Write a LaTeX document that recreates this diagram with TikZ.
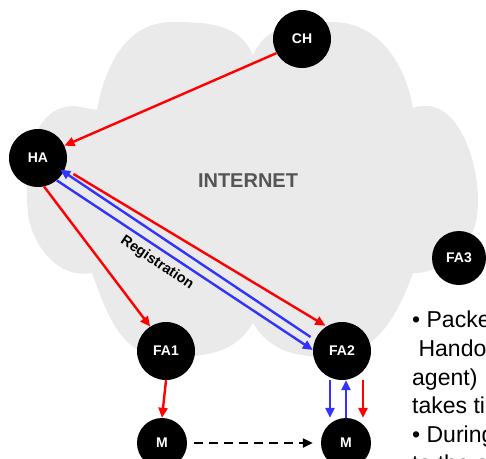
\documentclass[tikz,border=0pt]{standalone}
\usepackage{fontspec}
\setmainfont{Liberation Sans}
\usetikzlibrary{arrows.meta}
\definecolor{cloudgray}{RGB}{234,234,234}
\definecolor{regred}{RGB}{255,0,0}
\definecolor{regblue}{RGB}{51,51,255}
\definecolor{netgray}{RGB}{85,85,85}
\begin{document}
\begin{tikzpicture}[x=1pt,y=-1pt,
  agent/.style={circle,fill=black,minimum size=58pt,inner sep=0pt,text=white,font=\fontsize{14}{16}\selectfont\bfseries},
  mobile/.style={circle,fill=black,minimum size=50pt,inner sep=0pt,text=white,font=\fontsize{14}{16}\selectfont\bfseries},
  redarr/.style={draw=regred,line width=2.4pt,-{Triangle[length=10pt,width=9pt]}},
  bluearr/.style={draw=regblue,line width=2.4pt,-{Triangle[length=10pt,width=9pt]}},
  dasharr/.style={draw=black,line width=2.2pt,dash pattern=on 9pt off 6pt,-{Triangle[length=10pt,width=9pt]}},
  bodytext/.style={anchor=base west,inner sep=0pt,font=\fontsize{23}{26}\selectfont}
]
\useasboundingbox (0,0) rectangle (486,458);
\clip (0,0) rectangle (486,458);
% cloud
\fill[cloudgray] (97,110) to[out=80,in=180] (172,22) to[out=0,in=110] (253,56)
  to[out=70,in=180] (332,22) to[out=0,in=100] (413,108)
  to[out=20,in=90] (478,200) to[out=-90,in=40] (455,255) to[out=220,in=0] (413,273)
  to[out=-110,in=0] (328,357) to[out=180,in=-60] (253,323)
  to[out=-120,in=0] (165,357) to[out=180,in=-70] (92,273)
  to[out=190,in=-80] (28,215) to[out=95,in=180] (75,106) -- cycle;
\node[font=\fontsize{20}{22}\selectfont\bfseries,text=netgray] (inet) at (248,181) {INTERNET};
% nodes
\node[agent] (CH) at (302,39) {CH};
\node[agent] (HA) at (38,158) {HA};
\node[agent] (FA1) at (166,351) {FA1};
\node[agent] (FA2) at (342,351) {FA2};
\node[agent,minimum size=54pt] (FA3) at (459,258) {FA3};
\node[mobile] (M1) at (162,443) {M};
\node[mobile] (M2) at (346,443) {M};
% arrows
\draw[redarr] (CH.-151) -- (HA.25);
\draw[redarr] (HA.-78) -- (FA1.123);
\draw[redarr] ([shift={(8,6)}]HA.-20) -- ([shift={(-2,0)}]FA2.120);
\draw[bluearr] ([shift={(-4,-4)}]FA2.160) -- ([shift={(-3,-3)}]HA.-30);
\draw[bluearr] (HA.-50) -- (FA2.178);
\draw[redarr] (FA1.south) -- (M1.north);
\draw[bluearr] ([xshift=-12pt]FA2.south) -- ([xshift=-16pt]M2.north);
\draw[bluearr] (M2.north) -- ([xshift=4pt]FA2.south);
\draw[redarr] ([xshift=21pt]FA2.south) -- ([xshift=17pt]M2.north);
\coordinate (ds) at ([xshift=7pt]M1.east);
\draw[dasharr] (ds) -- ([xshift=-8pt]M2.west);
% registration label
\node[rotate=-34,font=\fontsize{14.5}{16}\selectfont\bfseries] (reg) at (157,263) {Registration};
% side text
\node[bodytext] (t1) at (412,327) {• Packets sent during};
\node[bodytext] (t2) at (412,356) {\ Handoff (to the new foreign};
\node[bodytext] (t3) at (412,385) {agent)\quad are lost. Handoff};
\node[bodytext] (t4) at (412,413) {takes time};
\node[bodytext] (t5) at (412,442) {• During handoff};
\node[bodytext] (t6) at (412,471) {to the old FA};
\end{tikzpicture}
\end{document}
